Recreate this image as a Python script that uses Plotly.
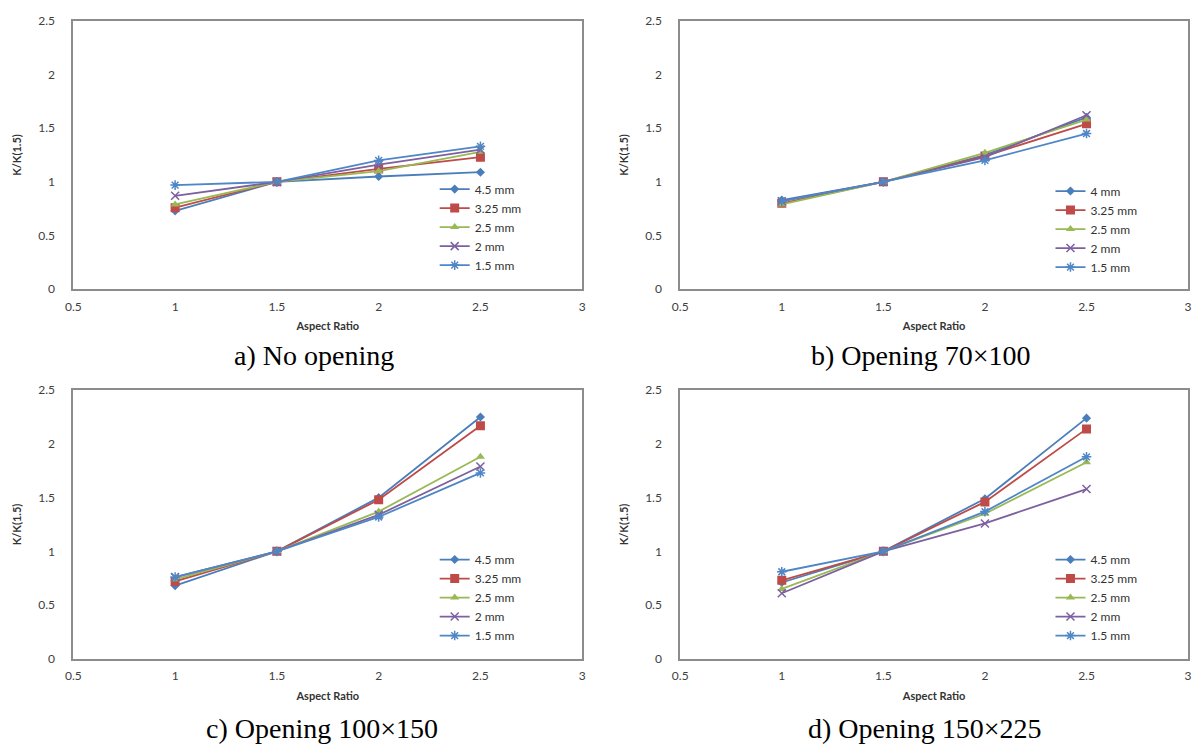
import plotly.graph_objects as go

aspect_ratio = [1, 1.5, 2, 2.5]
x_ticks = [0.5, 1, 1.5, 2, 2.5, 3]
y_ticks = [0, 0.5, 1, 1.5, 2, 2.5]

# Panel a) No opening
a_names = ["4.5 mm", "3.25 mm", "2.5 mm", "2 mm", "1.5 mm"]
a_45 = [0.73, 1.0, 1.05, 1.09]
a_325 = [0.76, 1.0, 1.12, 1.23]
a_25 = [0.79, 1.0, 1.10, 1.28]
a_2 = [0.87, 1.0, 1.16, 1.30]
a_15 = [0.97, 1.0, 1.20, 1.33]

# Panel b) Opening 70x100
b_names = ["4 mm", "3.25 mm", "2.5 mm", "2 mm", "1.5 mm"]
b_4 = [0.83, 1.0, 1.25, 1.60]
b_325 = [0.80, 1.0, 1.24, 1.54]
b_25 = [0.79, 1.0, 1.27, 1.58]
b_2 = [0.82, 1.0, 1.23, 1.62]
b_15 = [0.82, 1.0, 1.20, 1.45]

# Panel c) Opening 100x150
c_names = ["4.5 mm", "3.25 mm", "2.5 mm", "2 mm", "1.5 mm"]
c_45 = [0.68, 1.0, 1.50, 2.25]
c_325 = [0.72, 1.0, 1.48, 2.17]
c_25 = [0.74, 1.0, 1.37, 1.88]
c_2 = [0.76, 1.0, 1.34, 1.79]
c_15 = [0.76, 1.0, 1.32, 1.73]

# Panel d) Opening 150x225
d_names = ["4.5 mm", "3.25 mm", "2.5 mm", "2 mm", "1.5 mm"]
d_45 = [0.71, 1.0, 1.49, 2.24]
d_325 = [0.73, 1.0, 1.46, 2.14]
d_25 = [0.65, 1.0, 1.35, 1.83]
d_2 = [0.61, 1.0, 1.26, 1.58]
d_15 = [0.81, 1.0, 1.37, 1.88]

captions = ["a) No opening", "b) Opening 70×100", "c) Opening 100×150", "d) Opening 150×225"]

colors = ["#4A7EBB", "#BE4B48", "#98B954", "#7D60A0", "#4F86C6"]
symbols = ["diamond", "square", "triangle-up", "x-thin", "asterisk"]
sizes = [7, 9, 8, 8, 8]

W, H = 1201, 752
panels = [
    (a_names, [a_45, a_325, a_25, a_2, a_15], (66, 580), (13, 287), 431, 170, 309, 355),
    (b_names, [b_4, b_325, b_25, b_2, b_15], (679, 1192), (13, 287), 1053, 172, 922, 355),
    (c_names, [c_45, c_325, c_25, c_2, c_15], (66, 580), (390, 664), 431, 548, 317, 735),
    (d_names, [d_45, d_325, d_25, d_2, d_15], (679, 1192), (390, 664), 1053, 548, 926, 735),
]

fig = go.Figure()
layout = dict(width=W, height=H, margin=dict(l=0, r=0, t=0, b=0),
              paper_bgcolor="white", plot_bgcolor="white", showlegend=True,
              font=dict(family="Lato, Open Sans, sans-serif", size=12, color="#404040"))
annotations = []
axis_font = dict(family="Lato, Open Sans, sans-serif", size=12, color="#404040")
title_font = dict(family="Lato, Open Sans, sans-serif", size=11, color="#333333")

for i, (names, series, (x0, x1), (y0, y1), lx, ly, cx, cy) in enumerate(panels):
    k = "" if i == 0 else str(i + 1)
    lg = "legend" if i == 0 else "legend" + str(i + 1)
    for j, (nm, vals) in enumerate(zip(names, series)):
        mk = dict(symbol=symbols[j], size=sizes[j], color=colors[j],
                  line=dict(color=colors[j], width=1.5 if j >= 3 else 0))
        fig.add_trace(go.Scatter(x=aspect_ratio, y=vals, name=nm, mode="lines+markers",
                                 line=dict(color=colors[j], width=1.8), marker=mk,
                                 xaxis="x" + k, yaxis="y" + k, legend=lg))
    layout["xaxis" + k] = dict(domain=[x0 / W, x1 / W], range=[0.5, 3], tickvals=x_ticks,
                               ticktext=[f"{v:g}" for v in x_ticks],
                               showline=True, mirror=True, linecolor="#8C8C8C", linewidth=1.8,
                               showgrid=False, zeroline=False, ticks="", tickfont=axis_font,
                               anchor="y" + k, ticklabelstandoff=5,
                               title=dict(text="<b>Aspect Ratio</b>", font=title_font, standoff=10))
    layout["yaxis" + k] = dict(domain=[(H - y1) / H, (H - y0) / H], range=[0, 2.5], tickvals=y_ticks,
                               ticktext=[f"{v:g}" for v in y_ticks],
                               showline=True, mirror=True, linecolor="#8C8C8C", linewidth=1.8,
                               showgrid=False, zeroline=False, ticks="", tickfont=axis_font,
                               anchor="x" + k, ticklabelstandoff=14,
                               title=dict(text="<b>K/K(1.5)</b>", font=title_font, standoff=14))
    layout[lg] = dict(x=lx / W, y=(H - ly) / H, xanchor="left", yanchor="top",
                      bgcolor="rgba(0,0,0,0)", font=dict(family="Lato, Open Sans, sans-serif", size=12, color="#333333"),
                      tracegroupgap=0, itemwidth=30)
    annotations.append(dict(text=captions[i], x=cx / W, y=(H - cy) / H,
                            xref="paper", yref="paper", showarrow=False, xanchor="center", yanchor="middle",
                            font=dict(family="Liberation Serif, Times New Roman, serif", size=28, color="black")))

layout["annotations"] = annotations
fig.update_layout(**layout)
fig.write_html("out.html")
